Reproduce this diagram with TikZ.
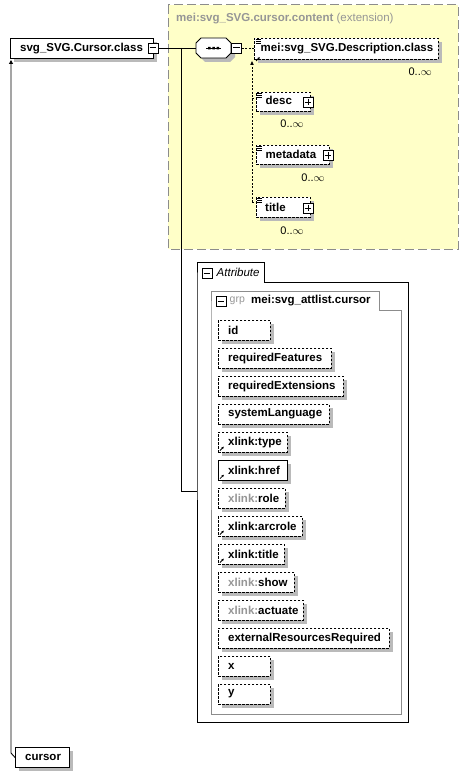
\documentclass[tikz,border=0pt]{standalone}
\usepackage{fontspec}
\setmainfont{Liberation Sans}
\usetikzlibrary{shadows,arrows.meta,calc}
\definecolor{ylw}{RGB}{255,255,200}
\definecolor{bordgray}{RGB}{140,140,140}
\definecolor{txtgray}{RGB}{150,150,150}
\tikzset{
 base/.style={anchor=north west, inner sep=0pt, minimum height=20pt, fill=white},
 shad/.style={general shadow={shadow xshift=4pt, shadow yshift=-4pt, fill=black!27, opacity=1}},
 solidbox/.style={base, shad, draw=black, line width=0.9pt},
 dashbox/.style={base, shad, draw=black, dash pattern=on 2.5pt off 1.5pt, line width=0.8pt},
 lbl/.style={anchor=west, inner sep=0pt, font=\fontsize{11.5}{13}\selectfont\bfseries},
 mult/.style={inner sep=0pt, font=\fontsize{11}{12}\selectfont},
 conn/.style={line width=0.9pt},
 dconn/.style={line width=0.8pt, dash pattern=on 2pt off 1.5pt},
 refarrow/.style={line width=0.8pt, -{Latex[length=2.5pt,width=2.5pt]}},
}
\newcommand\minusbox[3]{%
 \node[draw, fill=white, minimum size=10pt, inner sep=0pt, line width=0.9pt] (#1) at (#2,#3) {};
 \draw[line width=1pt] ([xshift=2pt]#1.west) -- ([xshift=-2pt]#1.east);}
\newcommand\plusbox[3]{%
 \node[draw, fill=white, minimum size=10pt, inner sep=0pt, line width=0.9pt] (#1) at (#2,#3) {};
 \draw[line width=1pt] ([xshift=2pt]#1.west) -- ([xshift=-2pt]#1.east);
 \draw[line width=1pt] ([yshift=-2pt]#1.north) -- ([yshift=2pt]#1.south);}
\newcommand\menuicon[2]{%
 \draw[line width=0.6pt] (#1,#2) -- ++(5,0) (#1,#2+2) -- ++(5,0) (#1,#2+4) -- ++(5,0);}
\newcommand\attr[5]{%
 \node[#4, minimum width=#3] (#1) at (218,#2) {};
 \node[lbl] (#1-t) at ([xshift=10pt]#1.west) {#5};}
\newcommand\linkicon[1]{%
 \draw[refarrow] ([xshift=2pt,yshift=2pt]#1.south west) -- ++(4,-4);}
\begin{document}
\begin{tikzpicture}[x=1pt,y=-1pt]
\useasboundingbox (0,0) rectangle (469,776);
% yellow extension area
\draw[fill=ylw, draw=bordgray, line width=1pt, dash pattern=on 9pt off 4pt] (168,5) rectangle (458,249);
\node[anchor=west, inner sep=0pt, text=txtgray] (exttitle) at (176,19)
  {\fontsize{11.5}{13}\selectfont\textbf{mei:svg\_SVG.cursor.content} (extension)};
% main class box
\node[solidbox, minimum width=143pt] (cls) at (10,38) {};
\node[lbl] (cls-t) at ([xshift=10pt]cls.west) {svg\_SVG.Cursor.class};
\minusbox{clsm}{153}{48}
% sequence compositor
\coordinate (seqW) at (196,48);
\draw[fill=white, line width=0.9pt, shad] (201,38) -- (226,38) -- (231,43) -- (231,53) -- (226,58) -- (201,58) -- (196,53) -- (196,43) -- cycle;
\draw[line width=0.9pt] (206,48) -- (221,48);
\fill (208,47) rectangle ++(2.5,2.5) (212.3,47) rectangle ++(2.5,2.5) (216.6,47) rectangle ++(2.5,2.5);
\minusbox{seqm}{236.5}{48}
% description class
\node[dashbox, minimum width=184pt, minimum height=21pt] (desccls) at (254,38) {};
\node[lbl] (desccls-t) at (260.5,48.5) {mei:svg\_SVG.Description.class};
\menuicon{255.5}{39.5}
\draw[refarrow] (256,61) -- ++(4,-4);
\node[mult, anchor=east] (m0) at (432,72) {0..\(\infty\)};
% children
\node[dashbox, minimum width=54pt, minimum height=19pt] (desc) at (256,92) {};
\node[lbl] (desc-t) at (265.5,100.5) {desc};
\menuicon{257}{93}
\plusbox{descp}{308}{102}
\node[mult] (m1) at (292,124) {0..\(\infty\)};
\node[dashbox, minimum width=73pt, minimum height=19pt] (meta) at (256,145) {};
\node[lbl] (meta-t) at (265.5,154.5) {metadata};
\menuicon{257}{146}
\plusbox{metap}{328}{155.5}
\node[mult] (m2) at (313,178) {0..\(\infty\)};
\node[dashbox, minimum width=54pt, minimum height=20pt] (titl) at (256,197) {};
\node[lbl] (titl-t) at (265,207) {title};
\menuicon{257}{198}
\plusbox{titlp}{308}{208}
\node[mult] (m3) at (292,231) {0..\(\infty\)};
% connectors in the top part
\coordinate (branch) at (181,48);
\coordinate (attrL) at (197,491);
\draw[conn] (clsm.east) -- (seqW);
\draw[conn] (branch) |- (attrL);
\draw[dconn] (seqm.east) -- (desccls.west |- seqm.east);
\coordinate (vtop) at (252,64);
\coordinate (vbot) at (252,202);
\draw[dconn] (vbot) -- (vtop);
\fill (vtop) ++(0,-3) -- ++(1.8,4) -- ++(-3.6,0) -- cycle;
\draw[dconn] (252,98) -- (desc.west |- 0,98);
\draw[dconn] (252,152) -- (meta.west |- 0,152);
\draw[dconn] (vbot) -- (titl.west |- 0,202);
% attribute container
\draw[line width=0.9pt] (197,282) -- (197,262) -- (264,262) -- (264,282) -- (408,282) -- (408,722) -- (197,722) -- cycle;
\minusbox{attm}{207}{273}
\node[anchor=west, inner sep=0pt, font=\fontsize{11.5}{13}\selectfont\itshape] (att-t) at (216.5,272) {Attribute};
\draw[line width=0.9pt, draw=bordgray] (211,310) -- (211,291) -- (379,291) -- (379,310) -- (401,310) -- (401,714) -- (211,714) -- cycle;
\minusbox{grpm}{221}{301}
\node[anchor=west, inner sep=0pt, text=txtgray, font=\fontsize{10.5}{12}\selectfont] (grp-k) at (229.5,301) {grp};
\node[lbl] (grp-t) at (251,301) {mei:svg\_attlist.cursor};
% attributes
\attr{aid}{319.7}{52}{dashbox}{id}
\attr{areqf}{347.7}{113}{dashbox}{requiredFeatures}
\attr{areqe}{375.7}{125}{dashbox}{requiredExtensions}
\attr{asys}{403.7}{111}{dashbox}{systemLanguage}
\attr{atype}{431.7}{69}{dashbox}{xlink:type}
\linkicon{atype}
\attr{ahref}{459.7}{69}{solidbox}{xlink:href}
\linkicon{ahref}
\attr{arole}{487.7}{67}{dashbox}{\textcolor{txtgray}{xlink:}role}
\attr{aarc}{515.7}{84}{dashbox}{xlink:arcrole}
\linkicon{aarc}
\attr{atitle}{543.7}{66}{dashbox}{xlink:title}
\linkicon{atitle}
\attr{ashow}{571.7}{76}{dashbox}{\textcolor{txtgray}{xlink:}show}
\attr{aact}{599.7}{85}{dashbox}{\textcolor{txtgray}{xlink:}actuate}
\attr{aext}{627.7}{171}{dashbox}{externalResourcesRequired}
\attr{ax}{655.7}{52}{dashbox}{x}
\attr{ay}{683.7}{52}{dashbox}{y}
% cursor element
\node[solidbox, minimum width=54pt] (cur) at (15,747) {};
\node[lbl] (cur-t) at ([xshift=10pt]cur.west) {cursor};
\coordinate (curbend) at (11,753);
\coordinate (curtop) at (11,60);
\draw[conn, -{Triangle[length=4pt,width=4pt]}] (cur.west) -- (curbend) -- (curtop);
\end{tikzpicture}
\end{document}
